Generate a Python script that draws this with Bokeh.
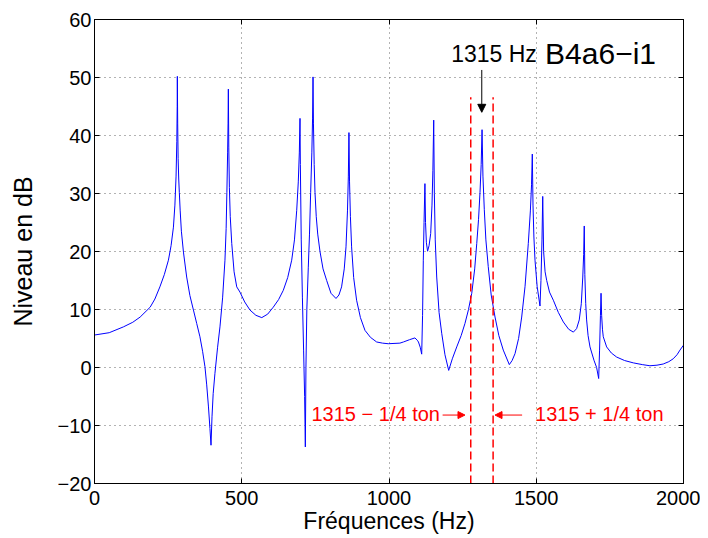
import numpy as np
from bokeh.plotting import figure
from bokeh.models import Range1d, LinearAxis, FixedTicker, Label, Arrow, NormalHead
from bokeh.embed import file_html
from bokeh.resources import INLINE

# ---- data ----
freq_hz = [0, 50, 98, 130, 155, 175, 189, 205, 222, 237, 251, 260, 268, 273, 277, 279.5, 280.8, 281.3,
           282.5, 284, 286, 288, 291, 295, 302, 313, 324, 336, 347, 358, 367, 375, 381, 387, 392, 395.6,
           399, 403, 409, 418, 426, 435, 443, 447, 449.5, 452, 453.5, 454.5,
           456, 458, 461, 466, 474, 483,
           494, 510, 528, 548, 568, 588, 607, 625, 641, 656, 669.6, 679, 686.6, 692, 695.5, 697.8,
           699, 702, 706, 710, 713.5, 715.9, 718, 721, 726, 730, 734, 738, 740.5, 742,
           743.5, 746, 748.7, 753, 758, 765.7, 776, 788.4, 803, 820, 830, 839, 848, 854, 859, 862, 864,
           866, 869, 873, 880, 890, 903, 918.5, 937, 958, 978, 997.6, 1037,
           1049, 1070, 1088, 1096, 1100, 1106, 1111, 1114, 1116.5, 1119, 1122, 1124, 1127, 1131, 1136,
           1141.6, 1146, 1149, 1151.8, 1154, 1157, 1162, 1170, 1179, 1190, 1202.7, 1215, 1230, 1245,
           1258, 1270, 1281, 1291, 1298, 1304, 1309, 1313, 1316, 1319, 1323.6, 1329, 1337, 1347, 1360,
           1373, 1388, 1408.5, 1418, 1428, 1440, 1450.6, 1462, 1473, 1480, 1484, 1486.6, 1489, 1492,
           1495.8, 1503, 1512.7, 1516, 1519.5, 1522, 1525, 1530,
           1535.5, 1545, 1558, 1575, 1592, 1610, 1626, 1637, 1646, 1653, 1658, 1661, 1663, 1665, 1668,
           1671, 1676, 1682.5, 1696, 1705, 1712, 1715, 1718, 1720, 1722, 1725, 1727.6, 1739, 1755,
           1773, 1800, 1829.5, 1860, 1886, 1910, 1931, 1950, 1965, 1978, 1988, 2000]
level_db = [5.6, 6.0, 7.0, 7.8, 8.7, 9.7, 10.4, 11.8, 13.9, 16.0, 18.5, 21.0, 24.2, 28.0, 33.0, 39.0, 45.0, 50.2,
            42.0, 36.0, 32.5, 30.2, 27.0, 23.5, 19.9, 15.6, 12.4, 9.9, 7.6, 5.3, 2.8, 0.15, -3.0, -6.8, -10.5, -13.4,
            -8.5, -4.5, -1.0, 3.5, 7.0, 12.0, 18.5, 24.0, 30.2, 37.0, 42.0, 48.0,
            38.0, 31.0, 26.0, 21.4, 16.5, 13.9,
            13.0, 11.3, 9.9, 9.0, 8.6, 9.2, 10.4, 11.7, 13.3, 15.5, 18.5, 22.0, 27.1, 32.0, 37.0, 42.95,
            35.0, 22.0, 12.0, 3.0, -5.0, -13.7, 0.0, 10.0, 17.3, 23.0, 30.2, 37.0, 43.0, 50.1,
            42.0, 35.0, 30.2, 26.0, 23.0, 20.0, 17.0, 15.0, 12.8, 11.9, 12.5, 13.9, 17.0, 20.8, 27.0, 33.0, 40.5,
            32.0, 26.0, 20.8, 15.5, 11.6, 8.6, 6.4, 5.2, 4.4, 4.2, 4.1, 4.2,
            4.4, 4.8, 5.1, 4.7, 4.4, 3.5, 2.3, 9.0, 18.5, 25.0, 31.7, 25.0, 21.5, 20.05, 21.0,
            23.1, 28.0, 34.0, 42.65, 30.0, 22.0, 15.6, 9.5, 5.9, 2.2, -0.5, 1.5, 3.55, 5.5,
            7.6, 10.0, 12.8, 17.0, 21.4, 25.5, 30.2, 35.0, 41.0, 33.0, 27.2, 22.0, 17.4, 12.5, 8.7,
            5.5, 3.0, 0.5, 1.2, 2.4, 5.0, 8.7, 14.0, 21.4, 27.0, 31.5, 36.8, 28.0, 22.5,
            18.5, 14.0, 10.6, 15.0, 22.0, 29.5, 20.0, 16.5,
            15.0, 13.0, 11.6, 9.5, 7.85, 6.6, 6.1, 6.7, 8.2, 11.0, 15.6, 19.5, 24.4, 16.0, 11.0,
            8.2, 5.5, 3.55, 1.25, 0.0, -1.9, 3.0, 9.0, 12.8, 9.0, 6.5, 5.3, 3.55, 2.5,
            1.8, 1.2, 0.8, 0.5, 0.3, 0.4, 0.6, 1.0, 1.5, 2.2, 3.0, 3.85]

x_ticks = [0, 500, 1000, 1500, 2000]
y_ticks = [-20, -10, 0, 10, 20, 30, 40, 50, 60]
y_tick_labels = {-20: "\u221220", -10: "\u221210"}

peak_hz = 1315
quarter_tone_hz = [1277.6, 1353.5]     # 1315 Hz -/+ 1/4 ton
quarter_line_top_db = 46.6

FONT = "Liberation Sans"

p = figure(width=700, height=538, output_backend="svg", toolbar_location=None,
           x_range=Range1d(0, 2000), y_range=Range1d(-20, 60),
           min_border_left=94, min_border_right=17, min_border_top=19,
           min_border_bottom=55, background_fill_color="white",
           border_fill_color="white")

p.outline_line_color = "black"
p.outline_line_width = 1
p.outline_line_alpha = 1

for ax, ticks in ((p.xaxis, x_ticks), (p.yaxis, y_ticks)):
    ax.ticker = FixedTicker(ticks=ticks)
    ax.major_label_text_font = FONT
    ax.major_label_text_font_size = "20px"
    ax.major_label_text_color = "black"
    ax.major_tick_in = 5
    ax.major_tick_out = 0
    ax.minor_tick_in = 0
    ax.minor_tick_out = 0
    ax.axis_line_color = "black"
    ax.major_tick_line_color = "black"
    ax.axis_label_text_font = FONT
    ax.axis_label_text_font_style = "normal"
    ax.axis_label_text_color = "black"
p.xaxis.major_label_standoff = 7
p.yaxis.major_label_standoff = 3
p.yaxis.major_label_overrides = y_tick_labels

p.yaxis.axis_label = "Niveau en dB"
p.yaxis.axis_label_text_font_size = "25px"
p.yaxis.axis_label_standoff = 18

p.xaxis.axis_label = "Fréquences (Hz)"
p.xaxis.axis_label_text_font_size = "23px"
p.xaxis.axis_label_standoff = 0

# ticks on the top and right edges (box on)
for ticks, side in ((y_ticks, "right"), (x_ticks, "above")):
    ax = LinearAxis(ticker=FixedTicker(ticks=ticks),
                    major_label_text_font_size="1px",
                    major_label_overrides={t: "" for t in ticks},
                    major_label_standoff=0,
                    major_tick_in=5, major_tick_out=0,
                    minor_tick_in=0, minor_tick_out=0,
                    axis_line_color="black", major_tick_line_color="black")
    p.add_layout(ax, side)

for g in (p.xgrid, p.ygrid):
    g.grid_line_color = "#666666"
    g.grid_line_dash = "1 4"
    g.grid_line_width = 1

# spectrum
p.line(freq_hz, level_db, line_color="#0000ff", line_width=1)

# quarter-tone limits
p.segment(x0=quarter_tone_hz, y0=[-20, -20], x1=quarter_tone_hz,
          y1=[quarter_line_top_db] * 2, line_color="#ff0000", line_width=1.5,
          line_dash="8 4")

# annotations
p.add_layout(Arrow(end=NormalHead(size=8, fill_color="black", line_color="black", line_width=1),
                   x_start=peak_hz, y_start=51.3, x_end=peak_hz, y_end=44.0,
                   line_color="black", line_width=1))
p.add_layout(Label(x=1502, y=54.1, text="1315 Hz", text_font=FONT, text_font_size="23px",
                   text_color="black", text_align="right", text_baseline="alphabetic"))
p.add_layout(Label(x=1530, y=54.1, text="B4a6\u2212i1", text_font=FONT, text_font_size="30px",
                   text_color="black", text_align="left", text_baseline="alphabetic"))

p.add_layout(Label(x=1173, y=-8.05, text="1315 \u2212 1/4 ton", text_font=FONT,
                   text_font_size="20px", text_color="#ff0000", text_align="right",
                   text_baseline="alphabetic"))
p.add_layout(Arrow(end=NormalHead(size=7, fill_color="#ff0000", line_color="#ff0000", line_width=1),
                   x_start=1182, y_start=-8.2, x_end=1258, y_end=-8.2,
                   line_color="#ff0000", line_width=1))
p.add_layout(Label(x=1496, y=-8.05, text="1315 + 1/4 ton", text_font=FONT,
                   text_font_size="20px", text_color="#ff0000", text_align="left",
                   text_baseline="alphabetic"))
p.add_layout(Arrow(end=NormalHead(size=7, fill_color="#ff0000", line_color="#ff0000", line_width=1),
                   x_start=1452, y_start=-8.2, x_end=1360, y_end=-8.2,
                   line_color="#ff0000", line_width=1))

open("out.html", "w").write(file_html(p, INLINE))
